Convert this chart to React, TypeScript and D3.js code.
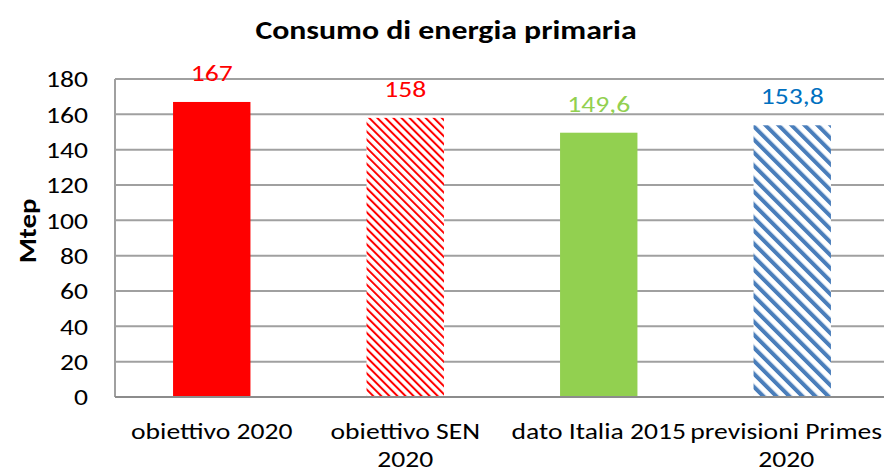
import React, { useEffect, useRef } from "react";
import * as d3 from "d3";

const categories = [
  ["obiettivo 2020"],
  ["obiettivo SEN", "2020"],
  ["dato Italia 2015"],
  ["previsioni Primes", "2020"],
];
const values = [167, 158, 149.6, 153.8];
const valueLabels = ["167", "158", "149,6", "153,8"];
const yTicks = [0, 20, 40, 60, 80, 100, 120, 140, 160, 180];

const fills = ["#FF0000", "url(#hatchRed)", "#92D050", "url(#hatchBlue)"];
const labelColors = ["#FF0000", "#FF0000", "#92D050", "#0070C0"];

const W = 884;
const H = 472;
const FONT = "Carlito, Calibri, 'Open Sans', sans-serif";
// the reference text is a bit wider than Carlito, stretch along the text
const SX = 1.2;

const App = () => {
  const ref = useRef<SVGSVGElement>(null);

  useEffect(() => {
    drawChart();
  }, []);

  const drawChart = () => {
    const svg = d3.select(ref.current);
    svg.selectAll("*").remove();

    const left = 115;
    const bandW = 193.5;
    const top = 79;
    const bottom = 397;

    const x = d3
      .scaleBand<number>()
      .domain(d3.range(categories.length))
      .range([left, left + bandW * categories.length])
      .paddingInner(0.6)
      .paddingOuter(0.3);
    const y = d3.scaleLinear().domain([0, 180]).range([bottom, top]);

    const defs = svg.append("defs");
    const red = defs
      .append("pattern")
      .attr("id", "hatchRed")
      .attr("patternUnits", "userSpaceOnUse")
      .attr("width", 5.7)
      .attr("height", 5.7)
      .attr("patternTransform", "rotate(-45)");
    red.append("rect").attr("width", 5.7).attr("height", 5.7).attr("fill", "#fff");
    red.append("rect").attr("width", 2).attr("height", 5.7).attr("fill", "#FF0000");

    const blue = defs
      .append("pattern")
      .attr("id", "hatchBlue")
      .attr("patternUnits", "userSpaceOnUse")
      .attr("width", 9.2)
      .attr("height", 9.2)
      .attr("patternTransform", "rotate(-45)");
    blue.append("rect").attr("width", 9.2).attr("height", 9.2).attr("fill", "#fff");
    blue.append("rect").attr("width", 4).attr("height", 9.2).attr("fill", "#4A7EBB");

    // gridlines
    svg
      .append("g")
      .selectAll("line")
      .data(yTicks)
      .enter()
      .append("line")
      .attr("x1", left)
      .attr("x2", left + bandW * categories.length)
      .attr("y1", (d) => y(d))
      .attr("y2", (d) => y(d))
      .attr("stroke", "#A0A0A0")
      .attr("stroke-width", 2);

    svg
      .append("line")
      .attr("x1", left)
      .attr("x2", left)
      .attr("y1", y(180))
      .attr("y2", y(0))
      .attr("stroke", "#A0A0A0")
      .attr("stroke-width", 2);

    // y tick labels
    svg
      .append("g")
      .selectAll("text")
      .data(yTicks)
      .enter()
      .append("text")
      .attr("transform", (d) => `translate(88,${y(d)}) scale(${SX},1)`)
      .attr("dy", "0.36em")
      .attr("text-anchor", "end")
      .attr("font-family", FONT)
      .attr("font-size", 23)
      .attr("fill", "#000")
      .text((d) => d);

    // bars
    svg
      .append("g")
      .selectAll("rect")
      .data(values)
      .enter()
      .append("rect")
      .attr("x", (d, i) => x(i)!)
      .attr("width", x.bandwidth())
      .attr("y", (d) => y(d))
      .attr("height", (d) => y(0) - y(d))
      .attr("fill", (d, i) => fills[i]);

    svg
      .append("line")
      .attr("x1", left)
      .attr("x2", left + bandW * categories.length)
      .attr("y1", y(0))
      .attr("y2", y(0))
      .attr("stroke", "#8C8C8C")
      .attr("stroke-width", 2);

    // data labels
    svg
      .append("g")
      .selectAll("text")
      .data(values)
      .enter()
      .append("text")
      .attr(
        "transform",
        (d, i) => `translate(${x(i)! + x.bandwidth() / 2},${y(d) - 21}) scale(${SX},1)`
      )
      .attr("text-anchor", "middle")
      .attr("font-family", FONT)
      .attr("font-size", 23)
      .attr("fill", (d, i) => labelColors[i])
      .text((d, i) => valueLabels[i]);

    // category labels, pulled back inside the right edge like excel does
    categories.forEach((lines, i) => {
      const texts = lines.map((s, j) =>
        svg
          .append("text")
          .attr("text-anchor", "middle")
          .attr("font-family", FONT)
          .attr("font-size", 23)
          .attr("fill", "#000")
          .attr("data-line", j)
          .text(s)
      );
      const widest = d3.max(texts, (t) => (t.node() as SVGTextElement).getComputedTextLength() * SX) || 0;
      let cx = x(i)! + x.bandwidth() / 2;
      if (cx + widest / 2 > W - 2) cx = W - 2 - widest / 2;
      texts.forEach((t, j) =>
        t.attr("transform", `translate(${cx},${439 + j * 28}) scale(${SX},1)`)
      );
    });

    // axis title
    svg
      .append("text")
      .attr("transform", `translate(36,231) rotate(-90) scale(1.15,1)`)
      .attr("text-anchor", "middle")
      .attr("font-family", FONT)
      .attr("font-size", 25)
      .attr("font-weight", "bold")
      .text("Mtep");

    // chart title
    svg
      .append("text")
      .attr("transform", `translate(446,39) scale(${SX},1)`)
      .attr("text-anchor", "middle")
      .attr("font-family", FONT)
      .attr("font-size", 26.5)
      .attr("font-weight", "bold")
      .text("Consumo di energia primaria");
  };

  return (
    <svg
      ref={ref}
      width={W}
      height={H}
      style={{ position: "absolute", left: 0, top: 0, background: "#fff" }}
    />
  );
};

export default App;
